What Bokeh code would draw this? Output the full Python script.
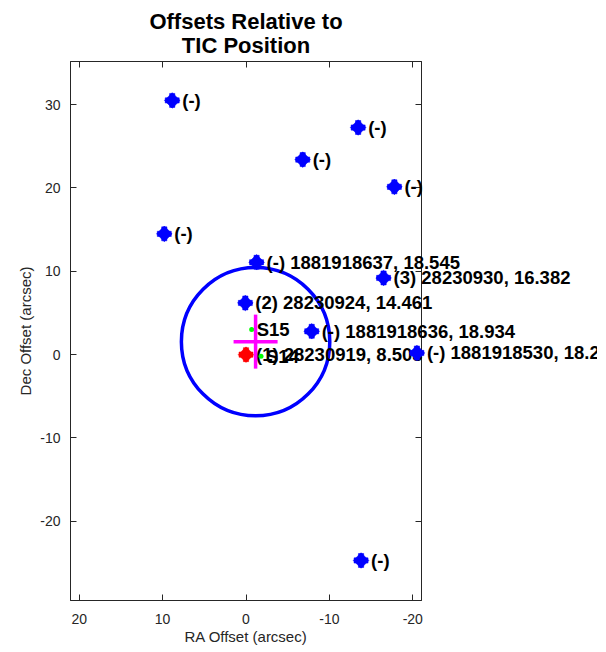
import math
from bokeh.plotting import figure
from bokeh.models import Range1d, FixedTicker, LinearAxis
from bokeh.core.properties import value
from bokeh.embed import file_html
from bokeh.resources import INLINE

# Neighbour star offsets (arcsec)
ra_off = [8.85, -13.45, -6.8, -17.8, 9.8, -1.27, -16.5, 0.08, -7.88, -20.5, -13.8]
dec_off = [30.5, 27.25, 23.4, 20.13, 14.49, 11.08, 9.2, 6.2, 2.8, 0.2, -24.7]
star_labels = ["(-)", "(-)", "(-)", "(-)", "(-)", "(-) 1881918637, 18.545",
               "(3) 28230930, 16.382", "(2) 28230924, 14.461",
               "(-) 1881918636, 18.934", "(-) 1881918530, 18.2", "(-)"]

# Target
target_ra = [0.0]
target_dec = [0.0]
target_label = ["(1) 28230919, 8.503"]

# Sector centroids
sec_ra = [-0.68, -1.8]
sec_dec = [3.0, -0.2]
sec_labels = ["S15", "S14"]

# Mean centroid with uncertainty
cen_ra = -1.15
cen_dec = 1.56
cen_err_ra = 2.64
cen_err_dec = 3.24
circle_radius = 8.9

x_ticks = [-20, -10, 0, 10, 20]
y_ticks = [-20, -10, 0, 10, 20, 30]
title_lines = ["Offsets Relative to", "TIC Position"]

FONT = "Liberation Sans"
AX = "#262626"

p = figure(width=597, height=650, output_backend="svg", toolbar_location=None,
           x_range=Range1d(21.05, -21.05), y_range=Range1d(-29.5, 35.17),
           min_border_left=70, min_border_right=176, min_border_top=61,
           min_border_bottom=50, title=None)
p.xgrid.visible = False
p.ygrid.visible = False
p.outline_line_color = AX
p.outline_line_width = 1
p.background_fill_color = "white"
p.border_fill_color = "white"

for ax, tk in ((p.xaxis[0], x_ticks), (p.yaxis[0], y_ticks)):
    ax.ticker = FixedTicker(ticks=tk)
    ax.major_label_overrides = {t: str(t) for t in tk}
    ax.major_tick_in = 6
    ax.major_tick_out = 0
    ax.minor_tick_line_color = None
    ax.axis_line_color = AX
    ax.major_tick_line_color = AX
    ax.major_label_text_color = AX
    ax.major_label_text_font = FONT
    ax.major_label_text_font_size = "14px"
    ax.axis_label_text_font = FONT
    ax.axis_label_text_font_size = "15px"
    ax.axis_label_text_font_style = "normal"
    ax.axis_label_text_color = AX
p.xaxis[0].axis_label = "RA Offset (arcsec)"
p.yaxis[0].axis_label = "Dec Offset (arcsec)"
p.xaxis[0].major_label_standoff = 13
p.xaxis[0].axis_label_standoff = 1
p.yaxis[0].major_label_standoff = 10
p.yaxis[0].axis_label_standoff = 3

for loc, tk in (("above", x_ticks), ("right", y_ticks)):
    a = LinearAxis(ticker=FixedTicker(ticks=tk), major_tick_in=6, major_tick_out=0,
                   minor_tick_line_color=None, axis_line_color=AX,
                   major_tick_line_color=AX, major_label_text_font_size="0px",
                   major_label_standoff=0)
    p.add_layout(a, loc)

# circle
p.ellipse(x=[cen_ra], y=[cen_dec], width=[2 * circle_radius], height=[2 * circle_radius],
          fill_color=None, line_color="#0000FF", line_width=3.5)

lbl = dict(x_offset=10, text_baseline="middle", text_font=value(FONT),
           text_font_size="18.5px", text_font_style="bold", text_color="black",
           level="overlay")

def star(xs, ys, color):
    p.scatter(xs, ys, marker="plus", size=14, fill_color=color, line_color=color,
              line_width=0.5, level="overlay")
    p.scatter(xs, ys, marker="square", size=11, angle=math.pi / 4, fill_color=color,
              line_color=color, line_width=0.5, level="overlay")

# target
star(target_ra, target_dec, "#FF0000")
p.text(target_ra, target_dec, text=target_label, **lbl)

# neighbours
star(ra_off, dec_off, "#0000FF")
p.text(ra_off, dec_off, text=star_labels, **lbl)

# sector centroids
p.scatter(sec_ra, sec_dec, marker="circle", size=5, fill_color="#00FF00", line_color=None,
          level="overlay")
lbl_s = dict(lbl)
lbl_s["x_offset"] = 5
p.text(sec_ra, sec_dec, text=sec_labels, **lbl_s)

# centroid cross
p.segment(x0=[cen_ra - cen_err_ra, cen_ra], y0=[cen_dec, cen_dec - cen_err_dec],
          x1=[cen_ra + cen_err_ra, cen_ra], y1=[cen_dec, cen_dec + cen_err_dec],
          line_color="#FF00FF", line_width=3.5, level="overlay")

# title
p.text(x=[0, 0], y=[40.0, 37.05], text=title_lines, text_align="center",
       text_baseline="alphabetic", text_font=value(FONT), text_font_size="22px",
       text_font_style="bold", text_color="black", level="overlay")

open("out.html", "w").write(file_html(p, INLINE))
